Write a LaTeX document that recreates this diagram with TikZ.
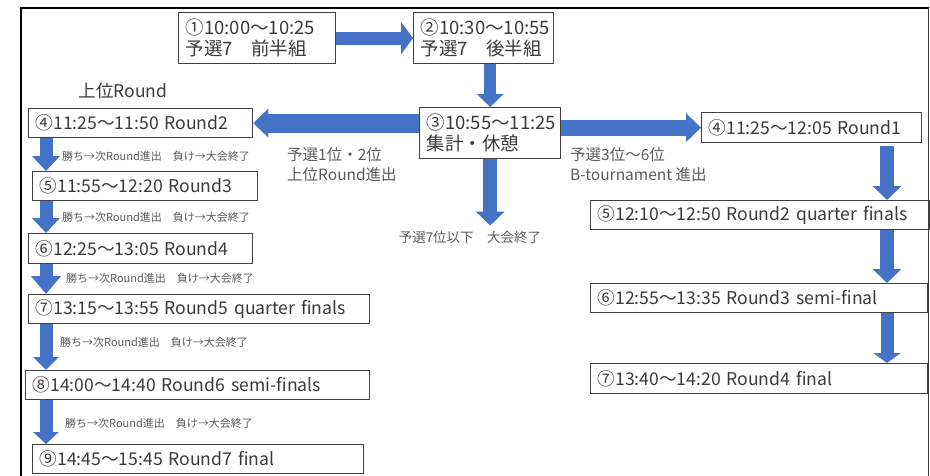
\documentclass[tikz,border=0pt]{standalone}
\usepackage{fontspec}
\setmainfont{Noto Sans CJK JP}
\usetikzlibrary{arrows.meta}
\hyphenpenalty=10000
\exhyphenpenalty=10000
\definecolor{arrowblue}{HTML}{4472C4}
\definecolor{boxline}{HTML}{404040}
\definecolor{txt}{HTML}{3A3A3A}
\definecolor{lbl}{HTML}{595959}
\begin{document}
\begin{tikzpicture}[x=1pt,y=-1pt,
  box/.style={draw=boxline, line width=1.3pt, anchor=north west, inner xsep=7pt, inner ysep=0pt,
    align=left, text=txt, font=\fontsize{18.5}{21}\selectfont},
  onebox/.style={box, font=\fontsize{17.6}{20}\selectfont},
  barrow/.style={draw=arrowblue, line width=14pt, -{Triangle[width=28pt,length=14pt]}},
  winlbl/.style={anchor=west, text=lbl, inner sep=0pt, font=\fontsize{11}{12}\selectfont},
  midlbl/.style={anchor=west, text=lbl, inner sep=0pt, align=left, font=\fontsize{15.5}{20}\selectfont}]
\useasboundingbox (0,0) rectangle (930,475);
% frame
\draw[black, line width=2.5pt] (21,476) -- (21,8) -- (929,8);
\draw[boxline, line width=1.5pt] (928.5,8) -- (928.5,476);
% top boxes
\node[box, text width=143pt, minimum height=51pt] (b1) at (178,12) {①10:00～10:25\\予選7　前半組};
\node[box, text width=126pt, minimum height=51pt] (b2) at (413,12) {②10:30～10:55\\予選7　後半組};
\node[box, text width=127pt, minimum height=51pt] (b3) at (419,107) {③10:55～11:25\\集計・休憩};
% left column
\node[onebox, text width=210pt, minimum height=29pt] (L4) at (28,108) {\mbox{④11:25～11:50 Round2}};
\node[onebox, text width=211pt, minimum height=29pt] (L5) at (32,171) {\mbox{⑤11:55～12:20 Round3}};
\node[onebox, text width=210pt, minimum height=30pt] (L6) at (28,233) {\mbox{⑥12:25～13:05 Round4}};
\node[onebox, text width=327pt, minimum height=29pt] (L7) at (28,294) {\mbox{⑦13:15～13:55 Round5 quarter finals}};
\node[onebox, text width=330pt, minimum height=29pt] (L8) at (25,370) {\mbox{⑧14:00～14:40 Round6 semi-finals}};
\node[onebox, text width=317pt, minimum height=29pt] (L9) at (32,444) {\mbox{⑨14:45～15:45 Round7 final}};
% right column
\node[onebox, text width=206pt, minimum height=30pt] (R4) at (701,112) {\mbox{④11:25～12:05 Round1}};
\node[onebox, text width=325pt, minimum height=29pt] (R5) at (590,200) {\mbox{⑤12:10～12:50 Round2 quarter finals}};
\node[onebox, text width=323pt, minimum height=29pt] (R6) at (590,283) {\mbox{⑥12:55～13:35 Round3 semi-final}};
\node[onebox, text width=323pt, minimum height=30pt] (R7) at (590,363) {\mbox{⑦13:40～14:20 Round4 final}};
% labels
\node[text=txt, inner sep=0pt, font=\fontsize{17.5}{20}\selectfont] (top) at (123,91) {上位Round};
\node[midlbl] (m1) at (287,165) {予選1位・2位\\上位Round進出};
\node[midlbl] (m2) at (570,165) {予選3位～6位\\B-tournament 進出};
\node[text=lbl, inner sep=0pt, font=\fontsize{13.5}{16}\selectfont] (end7) at (470,237) {予選7位以下　大会終了};
\node[winlbl] (w1) at (62,156) {勝ち→次Round進出　負け→大会終了};
\node[winlbl] (w2) at (62,217) {勝ち→次Round進出　負け→大会終了};
\node[winlbl] (w3) at (66,278) {勝ち→次Round進出　負け→大会終了};
\node[winlbl] (w4) at (60,342) {勝ち→次Round進出　負け→大会終了};
\node[winlbl] (w5) at (65,423) {勝ち→次Round進出　負け→大会終了};
% arrows
\coordinate (lx) at (46,0);
\coordinate (rx) at (887,0);
\draw[barrow, line width=13pt, -{Triangle[width=32pt,length=12pt]}] (b1.east) -- (b2.west);
\draw[barrow, line width=12pt, -{Triangle[width=26pt,length=13pt]}] (b2.south -| b3.north) -- (b3.north);
\draw[barrow, line width=19pt, -{Triangle[width=28pt,length=15pt]}] (b3.west |- L4.east) -- (L4.east);
\draw[barrow, line width=16pt, -{Triangle[width=28pt,length=15pt]}] (b3.east |- R4.west) -- (R4.west);
\draw[barrow, shorten >=5pt] (b3.south) -- (b3.south |- end7.north);
\draw[barrow, line width=13pt, -{Triangle[width=27pt,length=15pt]}] (L4.south -| lx) -- (L5.north -| lx);
\draw[barrow, line width=13pt, -{Triangle[width=27pt,length=15pt]}] (L5.south -| lx) -- (L6.north -| lx);
\draw[barrow, line width=13pt, -{Triangle[width=29pt,length=18pt]}] (L6.south -| lx) -- (L7.north -| lx);
\draw[barrow, line width=13pt, -{Triangle[width=25pt,length=13pt]}] (L7.south -| lx) -- (L8.north -| lx);
\draw[barrow, line width=13pt, -{Triangle[width=25pt,length=12pt]}] (L8.south -| lx) -- (L9.north -| lx);
\draw[barrow, shorten <=3pt] (R4.south -| rx) -- (R5.north -| rx);
\draw[barrow] (R5.south -| rx) -- (R6.north -| rx);
\draw[barrow, line width=13pt, -{Triangle[width=27pt,length=10pt]}] (R6.south -| rx) -- (R7.north -| rx);
\end{tikzpicture}
\end{document}
